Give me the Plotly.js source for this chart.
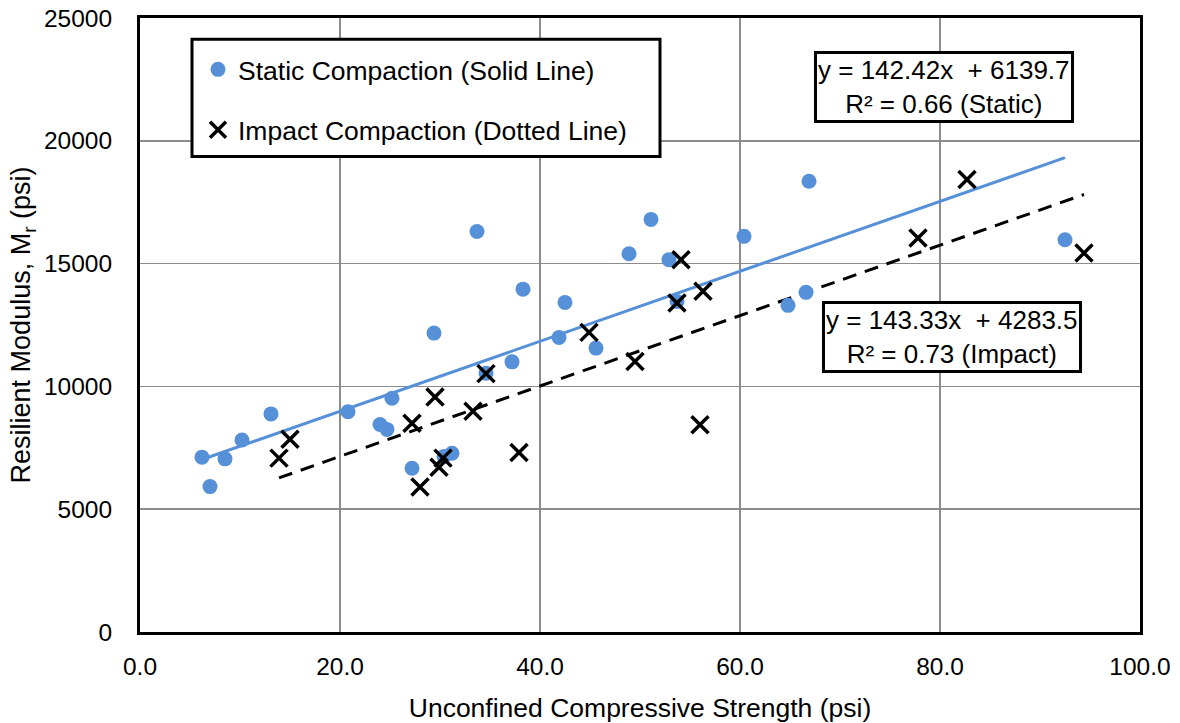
<!DOCTYPE html>
<html>
<head>
<meta charset="utf-8">
<script src="https://cdn.plot.ly/plotly-3.0.1.min.js"></script>
<style>html,body{margin:0;padding:0;background:#fff;}#chart{width:1180px;height:723px;}</style>
</head>
<body>
<div id="chart"></div>
<script>
// Static compaction data (UCS psi, Mr psi)
const staticX = [6.2, 7.0, 8.5, 10.2, 13.1, 20.8, 24.0, 24.7, 25.2, 27.2, 29.4, 30.4, 31.2, 33.7, 34.6, 37.2, 38.3, 41.9, 42.5, 45.6, 48.9, 51.1, 52.9, 53.7, 60.4, 64.8, 66.6, 66.9, 92.5];
const staticY = [7120, 5920, 7050, 7820, 8880, 8970, 8450, 8250, 9520, 6670, 12170, 7150, 7280, 16310, 10540, 11000, 13960, 11990, 13420, 11560, 15400, 16800, 15160, 13460, 16110, 13300, 13830, 18350, 15970];
// Impact compaction data
const impactX = [13.9, 15.0, 27.2, 28.0, 29.5, 29.9, 30.3, 33.3, 34.6, 37.9, 44.9, 49.5, 53.7, 54.1, 56.0, 56.3, 77.8, 82.7, 94.4];
const impactY = [7080, 7850, 8500, 5900, 9570, 6710, 7080, 8990, 10520, 7310, 12200, 11010, 13400, 15160, 8440, 13870, 16040, 18420, 15430];
// Linear trend coefficients
const staticFit = {slope: 142.42, intercept: 6139.7, r2: 0.66};
const impactFit = {slope: 143.33, intercept: 4283.5, r2: 0.73};
const xTicks = [0, 20, 40, 60, 80, 100];
const xTickText = ['0.0', '20.0', '40.0', '60.0', '80.0', '100.0'];
const yTicks = [0, 5000, 10000, 15000, 20000, 25000];
const yTickText = ['0', '5000', '10000', '15000', '20000', '25000'];

function fitLine(xs, fit) {
  const lo = Math.min(...xs), hi = Math.max(...xs);
  return {x: [lo, hi], y: [fit.slope * lo + fit.intercept, fit.slope * hi + fit.intercept]};
}
const sLine = fitLine(staticX, staticFit);
const iLine = fitLine(impactX, impactFit);

const blue = '#5690d8';
const FONT = 'Liberation Sans, Arial, sans-serif';

const traces = [
  {x: sLine.x, y: sLine.y, mode: 'lines', line: {color: blue, width: 3}, showlegend: false, hoverinfo: 'skip'},
  {x: iLine.x, y: iLine.y, mode: 'lines', line: {color: '#000', width: 3, dash: '14px,9px'}, showlegend: false, hoverinfo: 'skip'},
  {x: staticX, y: staticY, mode: 'markers', name: 'Static Compaction (Solid Line)', legendgroup: 'a',
   marker: {color: blue, size: 15, symbol: 'circle'}},
  {x: impactX, y: impactY, mode: 'markers', name: 'Impact Compaction (Dotted Line)', legendgroup: 'b',
   marker: {color: '#000', size: 17, symbol: 'x-thin-open', line: {color: '#000', width: 3.5}}}
];

const sp = '\u00a0';
const layout = {
  width: 1180, height: 723,
  margin: {l: 140, r: 40, t: 18, b: 91},
  paper_bgcolor: '#fff', plot_bgcolor: '#fff',
  font: {family: FONT, size: 24, color: '#000'},
  xaxis: {
    range: [0, 100], tickvals: xTicks, ticktext: xTickText,
    showgrid: true, gridcolor: '#8c8c8c', gridwidth: 1.5,
    showline: true, mirror: true, linecolor: '#000', linewidth: 3,
    zeroline: false, ticks: '', ticklen: 0, ticklabelstandoff: 11,
    tickfont: {size: 24.5, family: FONT},
    title: {text: 'Unconfined Compressive Strength (psi)', font: {size: 26.5, family: FONT}, standoff: 22}
  },
  yaxis: {
    range: [0, 25000], tickvals: yTicks, ticktext: yTickText,
    showgrid: true, gridcolor: '#8c8c8c', gridwidth: 1.5,
    showline: true, mirror: true, linecolor: '#000', linewidth: 3,
    zeroline: false, ticks: '', ticklen: 0, ticklabelstandoff: 20,
    tickfont: {size: 24.5, family: FONT},
    title: {text: 'Resilient Modulus, M<sub>r</sub> (psi)', font: {size: 27, family: FONT}, standoff: 6}
  },
  legend: {
    x: 0.058, y: 0.955, xanchor: 'left', yanchor: 'top',
    bgcolor: 'rgba(0,0,0,0)', borderwidth: 0,
    font: {size: 26.5, family: FONT}, traceorder: 'grouped', tracegroupgap: 23,
    itemwidth: 30
  },
  shapes: [
    {type: 'rect', xref: 'paper', yref: 'paper', layer: 'above',
     x0: 0.052, x1: 0.52, y0: (632 - 157) / 613.3, y1: (632 - 40) / 613.3,
     line: {color: '#000', width: 3}, fillcolor: '#fff'}
  ],
  annotations: [
    {x: 80.35, y: 22200, xref: 'x', yref: 'y', showarrow: false, align: 'center',
     text: 'y = 142.42x' + sp + sp + '+' + sp + '6139.7<br>R² = 0.66' + sp + '(Static)',
     font: {size: 26, family: FONT}, bgcolor: '#fff', bordercolor: '#000', borderwidth: 3, borderpad: 1},
    {x: 81.15, y: 12020, xref: 'x', yref: 'y', showarrow: false, align: 'center',
     text: 'y = 143.33x' + sp + sp + '+' + sp + '4283.5<br>R² = 0.73' + sp + '(Impact)',
     font: {size: 26, family: FONT}, bgcolor: '#fff', bordercolor: '#000', borderwidth: 3, borderpad: 1}
  ]
};

Plotly.newPlot('chart', traces, layout, {displayModeBar: false, staticPlot: true});
</script>
</body>
</html>
